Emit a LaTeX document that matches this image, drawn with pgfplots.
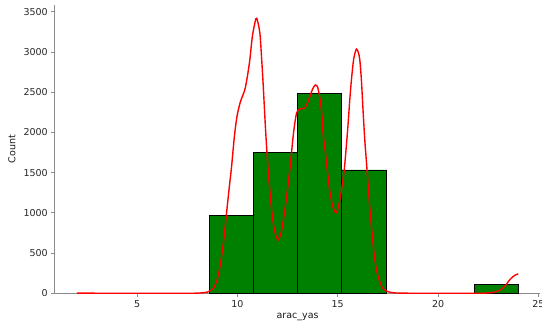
\documentclass[border=0pt]{standalone}
\usepackage{fontspec}
\setmainfont{DejaVu Sans}
\usepackage{pgfplots}
\pgfplotsset{compat=1.18}
\definecolor{spinegray}{HTML}{8C8C8C}
\definecolor{bargreen}{HTML}{008000}
\begin{document}
\begin{tikzpicture}[x=1pt,y=1pt]
\useasboundingbox (-54.8,-35.7) rectangle (487.2,293.3);
\begin{axis}[
  at={(0,0)}, anchor=south west,
  scale only axis, width=485.6pt, height=288.3pt,
  xmin=0.9, xmax=25.1, ymin=0, ymax=3583,
  axis x line*=bottom, axis y line*=left,
  axis line style={draw=spinegray, line width=0.9pt},
  xtick={5,10,15,20,25}, ytick={0,500,...,3500},
  tick align=outside, major tick length=3.5pt,
  tick style={draw=spinegray, line width=0.8pt},
  /pgf/number format/assume math mode=true,
  /pgf/number format/1000 sep={},
  ticklabel style={font=\fontsize{9.5}{11}\selectfont, text=black!85},
  xlabel={arac\_yas}, ylabel={Count},
  label style={font=\fontsize{9.5}{11}\selectfont, text=black!90},
  xlabel style={at={(axis description cs:0.5,0)}, anchor=center, yshift=-23.7pt},
  ylabel style={at={(axis description cs:0,0.5)}, anchor=center, yshift=42.8pt},
]
\addplot[ybar interval, fill=bargreen, draw=black, line width=0.7pt]
  coordinates {(8.6,965) (10.8,1749) (13.0,2488) (15.2,1534) (17.4,1534)};
\addplot[ybar interval, fill=bargreen, draw=black, line width=0.7pt]
  coordinates {(21.8,107) (24.0,107)};
\addplot[red, line width=1.4pt, smooth, tension=0.45] coordinates {
(2.0,3) (3,1) (4,0) (5,0) (6,0) (7,0) (8,2) (8.5,15) (8.8,60) (9.0,180)
(9.13,330) (9.3,620) (9.46,1000) (9.6,1330) (9.71,1575) (9.85,1950)
(9.98,2200) (10.15,2380) (10.37,2529) (10.5,2700) (10.62,2902) (10.75,3200)
(10.92,3411) (11.0,3390) (11.12,3234) (11.2,2950) (11.28,2614) (11.4,2050)
(11.53,1534) (11.7,1050) (11.85,780) (12.03,663) (12.2,780) (12.4,1100)
(12.61,1534) (12.8,2000) (12.95,2240) (13.1,2290) (13.36,2305) (13.5,2370)
(13.61,2445) (13.75,2540) (13.89,2590) (14.0,2560) (14.1,2440) (14.2,2250)
(14.27,1990) (14.38,1760) (14.48,1534) (14.6,1280) (14.75,1080) (14.93,1002)
(15.1,1150) (15.26,1410) (15.35,1600) (15.5,2050) (15.6,2404) (15.7,2700)
(15.8,2920) (15.93,3035) (16.03,2990) (16.1,2902) (16.18,2650) (16.26,2280)
(16.35,1900) (16.46,1534) (16.57,1150) (16.68,828) (16.8,520) (16.93,290)
(17.1,140) (17.25,62) (17.5,20) (17.75,8) (18,3) (19,0) (20,0) (21,0)
(22,0) (22.4,3) (22.73,10) (23.0,30) (23.22,62) (23.4,110) (23.56,165)
(23.75,210) (23.92,236) (24.0,240)
};
\end{axis}
\end{tikzpicture}
\end{document}
